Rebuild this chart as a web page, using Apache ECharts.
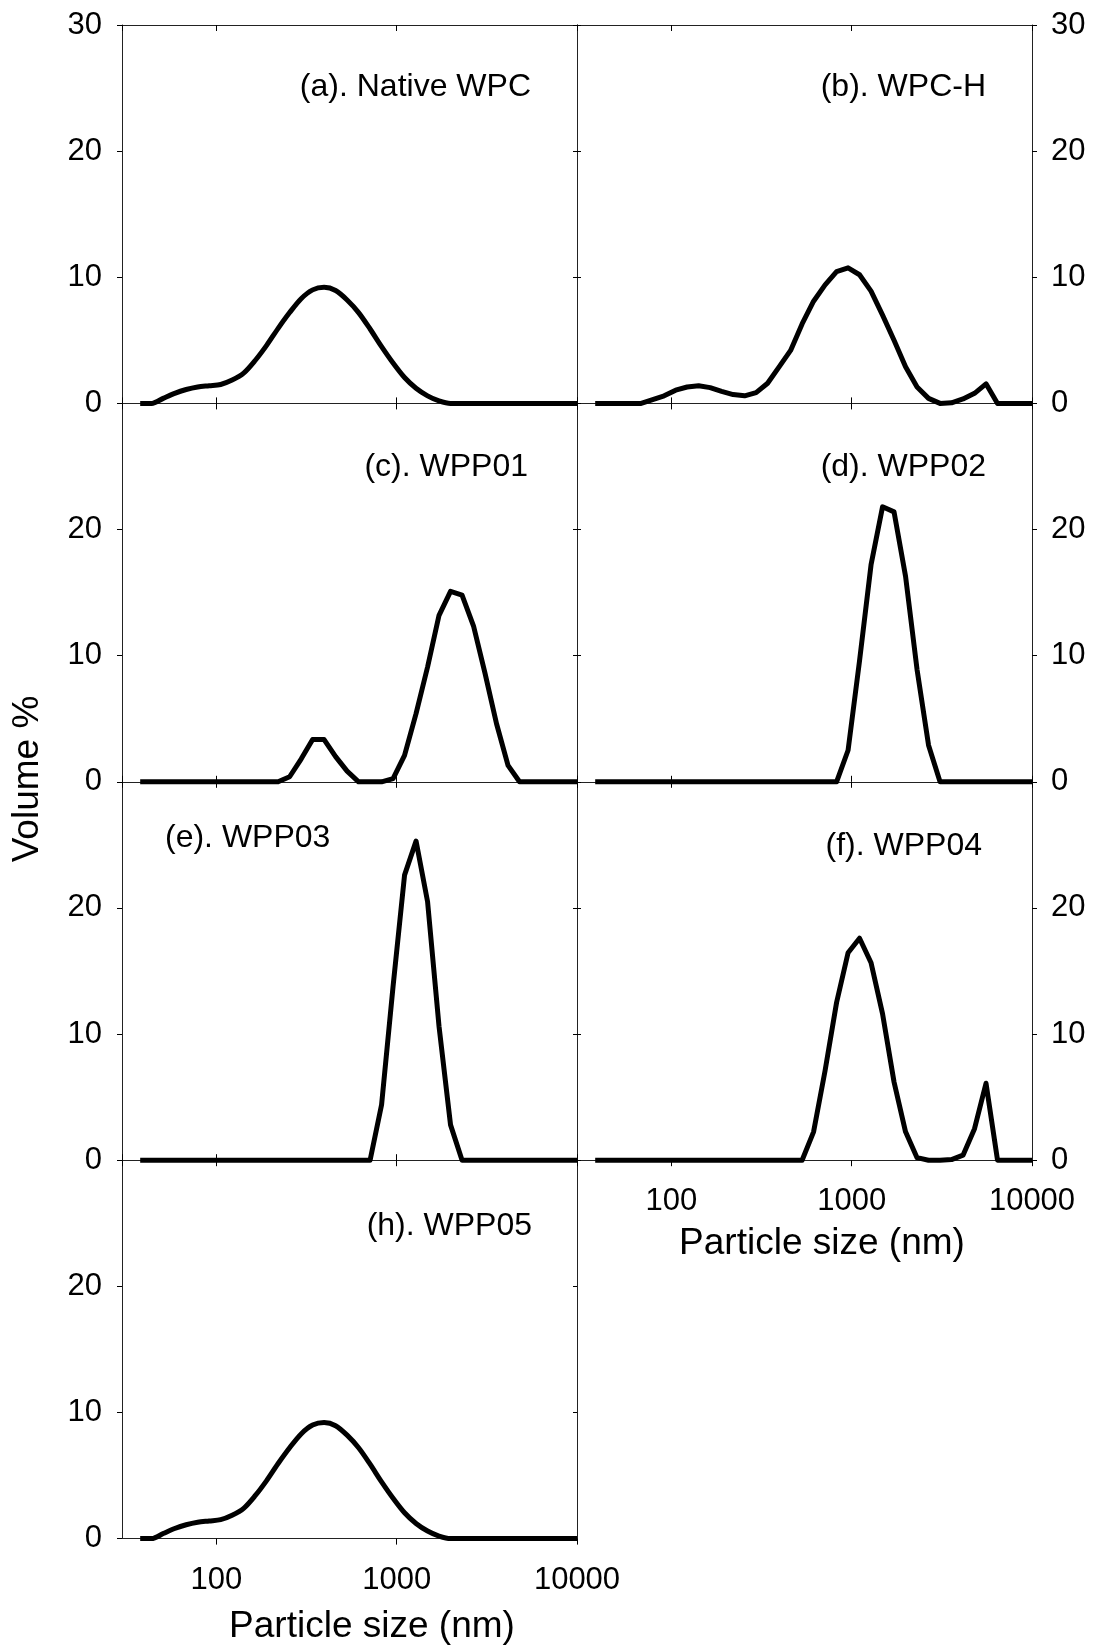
<!DOCTYPE html>
<html>
<head>
<meta charset="utf-8">
<title>Particle size distribution</title>
<script src="https://cdn.jsdelivr.net/npm/echarts@6.0.0/dist/echarts.min.js"></script>
<style>
html, body { margin: 0; padding: 0; background: #fff; }
#main { width: 1093px; height: 1649px; }
</style>
</head>
<body>
<div id="main"></div>
<script>
// size classes (nm)
var sizes = [37.84, 43.82, 50.75, 58.77, 68.06, 78.82, 91.28, 105.7, 122.4, 141.8,
	164.2, 190.1, 220.2, 255.0, 295.3, 342.0, 396.1, 458.7, 531.2, 615.1,
	712.4, 825.0, 955.4, 1106, 1281, 1484, 1718, 1990, 2305, 2669,
	3091, 3580, 4145, 4801, 5560, 6439, 7456, 8635, 10000];

// volume % for each sample
var nativeWPC = [0, 0, 0.4, 0.8, 1.1, 1.3, 1.4, 1.5, 1.85, 2.4,
	3.4, 4.6, 5.95, 7.2, 8.3, 9.0, 9.2, 8.95, 8.2, 7.2,
	5.9, 4.5, 3.2, 2.05, 1.2, 0.6, 0.2, 0, 0, 0,
	0, 0, 0, 0, 0, 0, 0, 0, 0];
var wpcH = [0, 0, 0, 0, 0, 0.3, 0.6, 1.05, 1.3, 1.4,
	1.25, 0.95, 0.7, 0.6, 0.85, 1.6, 2.9, 4.2, 6.3, 8.1,
	9.4, 10.45, 10.75, 10.2, 8.9, 7.0, 5.0, 2.9, 1.3, 0.4,
	0, 0.05, 0.35, 0.8, 1.55, 0, 0, 0, 0];
var wpp01 = [0, 0, 0, 0, 0, 0, 0, 0, 0, 0,
	0, 0, 0, 0.4, 1.8, 3.35, 3.35, 2.0, 0.85, 0,
	0, 0, 0.25, 2.1, 5.4, 9.1, 13.2, 15.1, 14.8, 12.35,
	8.6, 4.6, 1.3, 0, 0, 0, 0, 0, 0];
var wpp02 = [0, 0, 0, 0, 0, 0, 0, 0, 0, 0,
	0, 0, 0, 0, 0, 0, 0, 0, 0, 0,
	0, 0, 2.5, 9.6, 17.2, 21.8, 21.4, 16.3, 8.9, 2.9,
	0, 0, 0, 0, 0, 0, 0, 0, 0];
var wpp03 = [0, 0, 0, 0, 0, 0, 0, 0, 0, 0,
	0, 0, 0, 0, 0, 0, 0, 0, 0, 0,
	0, 4.4, 13.8, 22.6, 25.3, 20.5, 10.6, 2.8, 0, 0,
	0, 0, 0, 0, 0, 0, 0, 0, 0];
var wpp04 = [0, 0, 0, 0, 0, 0, 0, 0, 0, 0,
	0, 0, 0, 0, 0, 0, 0, 0, 0, 2.25,
	7.1, 12.5, 16.45, 17.6, 15.65, 11.6, 6.2, 2.25, 0.2, 0,
	0, 0.05, 0.4, 2.5, 6.1, 0, 0, 0, 0];
var wpp05 = [0, 0, 0.4, 0.8, 1.1, 1.3, 1.4, 1.5, 1.85, 2.4,
	3.4, 4.6, 5.95, 7.2, 8.3, 9.0, 9.2, 8.95, 8.2, 7.2,
	5.9, 4.5, 3.2, 2.05, 1.2, 0.6, 0.2, 0, 0, 0,
	0, 0, 0, 0, 0, 0, 0, 0, 0];

// axis ticks
var xTicks = [100, 1000, 10000];
var yTicks = [0, 10, 20, 30];

var font = '"Liberation Sans", Arial, sans-serif';
var colLeft = [122, 577];
var rowTop = [25, 403.4, 781.8, 1160.2];
var gridW = 455, gridH = 378.4;

var panels = [
	{title: '(a). Native WPC', values: nativeWPC, col: 0, row: 0, smooth: 0.3, tx: 531, ty: 87, align: 'right'},
	{title: '(b). WPC-H', values: wpcH, col: 1, row: 0, tx: 986, ty: 87, align: 'right'},
	{title: '(c). WPP01', values: wpp01, col: 0, row: 1, tx: 528, ty: 467, align: 'right'},
	{title: '(d). WPP02', values: wpp02, col: 1, row: 1, tx: 986, ty: 467, align: 'right'},
	{title: '(e). WPP03', values: wpp03, col: 0, row: 2, tx: 165, ty: 838, align: 'left'},
	{title: '(f). WPP04', values: wpp04, col: 1, row: 2, tx: 982, ty: 846, align: 'right', xLabel: true},
	{title: '(h). WPP05', values: wpp05, col: 0, row: 3, smooth: 0.3, tx: 532, ty: 1226, align: 'right', xLabel: true}
];

init();

function init() {
	var myChart = echarts.init(document.getElementById('main'));
	myChart.setOption(buildOption());
}

function xAxisOf(i, pos, showLabel, inside) {
	return {
		gridIndex: i,
		type: 'log',
		logBase: 10,
		min: 30,
		max: xTicks[xTicks.length - 1],
		position: pos,
		axisLine: {show: true, onZero: false, lineStyle: {color: '#222', width: 1}},
		axisTick: {show: true, inside: inside, length: 6, lineStyle: {color: '#000', width: 1}},
		axisLabel: {
			show: showLabel,
			margin: 26,
			fontSize: 31,
			fontFamily: font,
			color: '#000',
			showMinLabel: false,
			formatter: function(v) {
				v = Math.round(v);
				return xTicks.indexOf(v) >= 0 ? String(v) : '';
			}
		},
		splitLine: {show: false},
		minorTick: {show: false}
	};
}

function yAxisOf(i, pos, showLabel, inside, showMax) {
	return {
		gridIndex: i,
		type: 'value',
		min: yTicks[0],
		max: yTicks[yTicks.length - 1],
		interval: yTicks[1] - yTicks[0],
		position: pos,
		axisLine: {show: true, onZero: false, lineStyle: {color: '#222', width: 1}},
		axisTick: {show: true, inside: inside, length: inside ? 4 : 5, lineStyle: {color: '#000', width: 1}},
		axisLabel: {
			show: showLabel,
			margin: pos == 'left' ? 20 : 19,
			fontSize: 31,
			fontFamily: font,
			color: '#000',
			showMaxLabel: showMax
		},
		splitLine: {show: false}
	};
}

function buildOption() {
	var grid = [], xAxis = [], yAxis = [], series = [], graphic = [];

	panels.forEach(function(p, i) {
		grid.push({
			left: colLeft[p.col],
			top: rowTop[p.row],
			width: gridW,
			height: gridH,
			outerBoundsMode: 'none'
		});

		// bottom axis (labels only on the last row) and top axis with inner ticks
		xAxis.push(xAxisOf(i, 'bottom', !!p.xLabel, !p.xLabel));
		xAxis.push(xAxisOf(i, 'top', false, true));

		// labelled side + plain side
		var showMax = p.row == 0 ? true : false;
		if (p.col == 0) {
			yAxis.push(yAxisOf(i, 'left', true, false, showMax));
			yAxis.push(yAxisOf(i, 'right', false, true, false));
		} else {
			yAxis.push(yAxisOf(i, 'right', true, false, showMax));
			yAxis.push(yAxisOf(i, 'left', false, true, false));
		}

		var data = [];
		for (var k = 0; k < sizes.length; k++) {
			data.push([sizes[k], p.values[k]]);
		}
		series.push({
			name: p.title,
			type: 'line',
			xAxisIndex: i * 2,
			yAxisIndex: i * 2,
			data: data,
			smooth: p.smooth || false,
			showSymbol: false,
			symbol: 'none',
			clip: false,
			animation: false,
			lineStyle: {color: '#000', width: 5, join: 'round'}
		});

		graphic.push({
			type: 'text',
			x: p.tx,
			y: p.ty,
			style: {
				text: p.title,
				fontSize: 32,
				fontFamily: font,
				fill: '#000',
				align: p.align,
				verticalAlign: 'middle'
			}
		});
	});

	// axis names
	graphic.push({
		type: 'text', x: 28, y: 779, rotation: Math.PI / 2,
		style: {text: 'Volume %', fontSize: 37, fontFamily: font, fill: '#000', align: 'center', verticalAlign: 'middle'}
	});
	graphic.push({
		type: 'text', x: 372, y: 1627,
		style: {text: 'Particle size (nm)', fontSize: 37, fontFamily: font, fill: '#000', align: 'center', verticalAlign: 'middle'}
	});
	graphic.push({
		type: 'text', x: 822, y: 1244,
		style: {text: 'Particle size (nm)', fontSize: 37, fontFamily: font, fill: '#000', align: 'center', verticalAlign: 'middle'}
	});

	return {
		backgroundColor: '#fff',
		animation: false,
		grid: grid,
		xAxis: xAxis,
		yAxis: yAxis,
		series: series,
		graphic: graphic
	};
}
</script>
</body>
</html>
